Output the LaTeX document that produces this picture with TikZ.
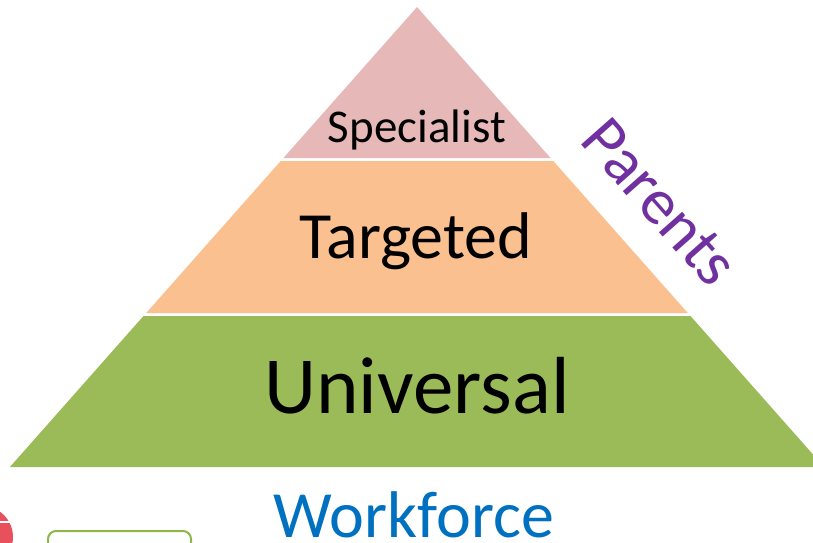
\documentclass[tikz,border=0pt]{standalone}
\usepackage{fontspec}
\setmainfont{Carlito}
\usetikzlibrary{positioning}

\definecolor{specpink}{HTML}{E6B9B8}
\definecolor{targorange}{HTML}{FAC090}
\definecolor{univgreen}{HTML}{9BBB59}
\definecolor{parentpurple}{HTML}{7030A0}
\definecolor{workblue}{HTML}{0070C0}
\definecolor{badgered}{HTML}{E8505B}
\definecolor{boxgreen}{HTML}{8DB849}

\begin{document}
\begin{tikzpicture}[x=1pt,y=-1pt,
  level/.style={font=\fontsize{#1}{#1}\selectfont, anchor=base},
  side/.style={font=\fontsize{65}{65}\selectfont}]
\useasboundingbox (0,0) rectangle (813,542);

% pyramid bands, top to bottom
\fill[specpink]   (417,7) -- (550.6,158) -- (283.4,158) -- cycle;
\fill[targorange] (280.7,161) -- (553.3,161) -- (687.8,313) -- (146.2,313) -- cycle;
\fill[univgreen]  (143.5,316) -- (690.5,316) -- (824.1,467) -- (9.9,467) -- cycle;

\node[level=47] (spec) at (417,142) {Specialist};
\node[level=66] (targ) at (416,258) {Targeted};
\node[level=81] (univ) at (417,413) {Universal};

% groups around the pyramid
\node[side, text=parentpurple, rotate=-48.5] (parents) at (660,202) {Parents};
\node[level=66, text=workblue] (work) at (414,537) {Workforce};

% bits along the lower edge
\fill[badgered] (-18,537) circle (31);
\draw[white, line width=2pt] (0,522) -- (14,522);
\draw[boxgreen, line width=2pt, rounded corners=8pt, fill=white] (48,531) rectangle (191,560);
\end{tikzpicture}
\end{document}
